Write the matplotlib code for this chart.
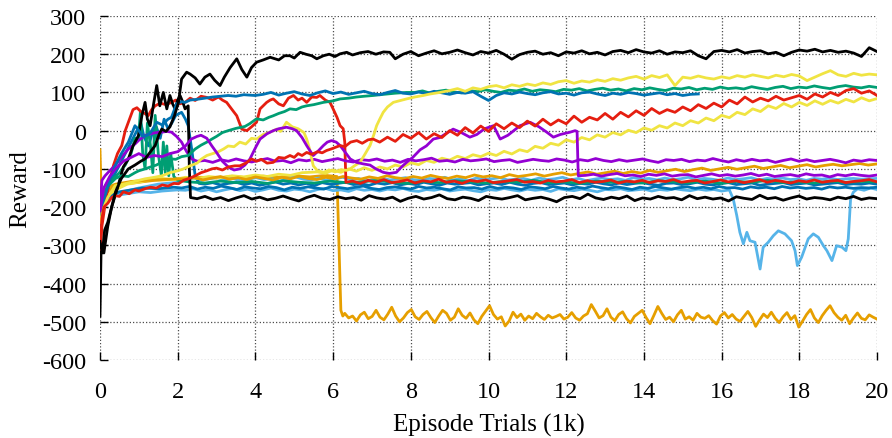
import matplotlib
matplotlib.use("Agg")
import matplotlib.pyplot as plt
import numpy as np

plt.rcParams['font.family'] = ['Liberation Serif', 'DejaVu Serif']
plt.rcParams['axes.unicode_minus'] = False

# gnuplot default line colours
PURPLE = '#9400D3'
GREEN = '#009E73'
SKY = '#56B4E9'
ORANGE = '#E69F00'
YELLOW = '#F0E442'
BLUE = '#0072B2'
RED = '#E51E10'
BLACK = 'black'

x_ticks = [0, 2, 4, 6, 8, 10, 12, 14, 16, 18, 20]
y_ticks = [-600, -500, -400, -300, -200, -100, 0, 100, 200, 300]

# --- reward curves: (episode in 1k, reward) for the start, then evenly spaced tails ---
black_top_early = [(0, -290), (0.06, -320), (0.12, -260), (0.2, -240), (0.3, -200), (0.4, -160),
                   (0.55, -125), (0.73, -100), (0.9, -90), (1.05, -80), (1.16, -74), (1.3, -55),
                   (1.42, -39), (1.52, -10), (1.59, 4), (1.7, -2), (1.8, 10), (1.92, 40), (2.02, 74),
                   (2.1, 135), (2.23, 153), (2.32, 148), (2.45, 138), (2.57, 122), (2.7, 140),
                   (2.83, 148), (2.95, 132), (3.09, 118), (3.2, 140), (3.35, 165), (3.52, 188),
                   (3.65, 160), (3.78, 140), (3.9, 165), (4.03, 179), (4.2, 185), (4.38, 192),
                   (4.6, 185), (4.75, 196), (4.89, 196), (5.0, 190), (5.15, 205), (5.3, 200),
                   (5.45, 196), (5.58, 188), (5.75, 196), (5.9, 200), (6.05, 194), (6.18, 201),
                   (6.35, 205), (6.5, 198), (6.7, 204), (6.9, 207), (7.1, 200), (7.3, 206),
                   (7.46, 205), (7.6, 188)]
black_top_tail = [200, 207, 196, 203, 209, 201, 205, 211, 204, 198, 207, 203, 210, 200, 187, 199,
                  205, 208, 200, 204, 196, 206, 203, 209, 201, 205, 198, 207, 210, 204, 212, 206,
                  203, 209, 200, 206, 204, 209, 196, 188, 207, 210, 206, 212, 203, 207, 209, 201,
                  205, 196, 205, 211, 208, 213, 206, 210, 205, 208, 203, 194, 217, 207]

black_low_early = [(0, -485), (0.03, -300), (0.1, -320), (0.2, -250), (0.3, -200), (0.45, -150),
                   (0.6, -95), (0.73, -74), (0.85, -40), (0.99, -13), (1.08, 40), (1.16, 74),
                   (1.22, 30), (1.29, 13), (1.38, 70), (1.46, 118), (1.54, 65), (1.63, 100),
                   (1.72, 57), (1.8, 92), (1.87, 70), (1.93, 57), (2.0, 80), (2.06, 92),
                   (2.13, 75), (2.19, 57), (2.27, 65), (2.3, -100), (2.33, -175)]
black_low_tail = [-178, -172, -180, -175, -183, -176, -170, -179, -174, -181, -177, -171, -178,
                  -184, -175, -169, -177, -180, -173, -178, -175, -182, -170, -176, -179, -174,
                  -185, -177, -172, -179, -175, -168, -178, -181, -174, -177, -183, -172, -176,
                  -179, -175, -170, -181, -177, -174, -179, -186, -175, -172, -178, -166, -176,
                  -180, -174, -178, -171, -183, -176, -179, -172, -177, -175, -181, -170, -178,
                  -174, -179, -176, -184, -173, -177, -180, -169, -178, -175, -182, -176, -171,
                  -179, -175, -177, -181, -174, -178, -172, -180, -176, -178]

red_hi_early = [(0, -320), (0.05, -250), (0.15, -180), (0.25, -130), (0.35, -90), (0.45, -60),
                (0.56, -39), (0.65, 0), (0.73, 22), (0.85, 55), (0.95, 60), (1.05, 50),
                (1.15, 45), (1.24, 39), (1.33, 55), (1.42, 65), (1.55, 72), (1.7, 68), (1.84, 74),
                (1.95, 80), (2.05, 70), (2.19, 74), (2.32, 85), (2.45, 79), (2.6, 90), (2.75, 87),
                (2.9, 80), (3.05, 88), (3.15, 80), (3.26, 74), (3.4, 55), (3.52, 39), (3.65, 4),
                (3.78, 0), (3.9, 10), (4.03, 22), (4.12, 57), (4.29, 74), (4.38, 80), (4.46, 83),
                (4.6, 70), (4.72, 65), (4.85, 85), (4.98, 92), (5.1, 80), (5.2, 85), (5.32, 74),
                (5.45, 88), (5.58, 87), (5.66, 92), (5.8, 80), (5.92, 74), (6.0, 57), (6.1, 35),
                (6.18, 13), (6.26, 5), (6.3, -30), (6.33, -135)]
red_hi_tail = [-132, -138, -130, -135, -128, -136, -133, -129, -137, -131, -134, -127, -135, -132,
               -138, -130, -133, -129, -136, -134, -131, -128, -135, -133, -137, -130, -134, -132,
               -128, -136, -131, -135, -133, -129, -137, -132, -134, -130, -136, -131, -133, -128,
               -135, -132, -130, -137, -133, -129, -134, -131, -136, -132, -128, -135, -130, -133,
               -137, -131, -134, -129, -135, -132, -130, -136, -133, -131, -128, -134]

red_rise_early = [(0, -310), (0.05, -230), (0.1, -200), (0.2, -190), (0.3, -175), (0.39, -170),
                  (0.5, -172), (0.6, -160), (0.75, -165), (0.9, -155), (1.0, -158), (1.16, -152),
                  (1.3, -148), (1.45, -150), (1.6, -142), (1.75, -145), (1.9, -138), (2.02, -139),
                  (2.15, -130), (2.3, -125), (2.45, -118), (2.6, -110), (2.75, -105), (2.88, -100),
                  (3.0, -98), (3.15, -103), (3.3, -95), (3.47, -92), (3.6, -92), (3.75, -85),
                  (3.9, -74), (4.03, -80), (4.15, -75), (4.3, -85), (4.46, -83), (4.6, -70),
                  (4.75, -72), (4.89, -65), (5.0, -70), (5.1, -60), (5.2, -65), (5.32, -57),
                  (5.45, -62), (5.6, -55), (5.72, -58), (5.83, -52), (5.95, -48), (6.05, -44),
                  (6.18, -39), (6.3, -42), (6.45, -30), (6.61, -26), (6.75, -33), (6.9, -24),
                  (7.03, -22), (7.2, -30)]
red_rise_tail = [-17, -28, -10, -20, -5, -22, -8, -18, 0, -12, 8, -6, 12, -2, 18, 5, 20, 8, 25,
                 12, 30, 15, 28, 18, 38, 22, 35, 28, 45, 30, 48, 36, 52, 40, 58, 45, 55, 48, 62,
                 52, 68, 58, 72, 62, 80, 70, 88, 75, 85, 78, 90, 80, 86, 92, 82, 96, 88, 100, 92,
                 105, 110, 98, 104, 92]

purple_flat_early = [(0, -200), (0.05, -130), (0.13, -118), (0.25, -105), (0.4, -90), (0.55, -70),
                     (0.73, -48), (0.9, -35), (1.0, -25), (1.16, -13), (1.3, -8), (1.45, -5),
                     (1.59, -4), (1.72, -2), (1.84, -4), (1.97, -15), (2.1, -30), (2.23, -55),
                     (2.36, -74), (2.5, -80)]
purple_flat_tail = [-78, -83, -76, -80, -74, -79, -82, -77, -73, -80, -78, -84, -76, -79, -75, -81,
                    -77, -73, -79, -82, -76, -78, -74, -80, -77, -83, -75, -79, -76, -72, -80, -78,
                    -82, -75, -79, -77, -74, -81, -78, -76, -83, -79, -75, -78, -80, -74, -77, -82,
                    -76, -79, -73, -78, -81, -76, -80, -77, -74, -79, -83, -76, -78, -75, -81, -77,
                    -79, -73, -78, -82, -76, -80, -75, -79, -77, -83, -78, -74, -80, -76, -81, -78,
                    -75, -79, -84, -77, -80, -76, -78]

purple_bump_early = [(0, -210), (0.1, -150), (0.25, -120), (0.4, -100), (0.6, -80), (0.8, -70),
                     (1.0, -60), (1.2, -70), (1.4, -65), (1.6, -68), (1.8, -60), (2.0, -55),
                     (2.2, -40), (2.35, -22), (2.5, -15), (2.6, -12), (2.75, -20), (2.88, -40),
                     (3.0, -57), (3.15, -80), (3.3, -95), (3.45, -103), (3.6, -100), (3.73, -90),
                     (3.86, -74), (4.0, -45), (4.12, -22), (4.3, -8), (4.46, 0), (4.6, 5),
                     (4.8, 9), (4.95, 5), (5.06, 0), (5.2, -18), (5.32, -39), (5.42, -55),
                     (5.49, -65), (5.6, -55), (5.75, -39), (5.85, -30), (5.96, -26), (6.08, -30),
                     (6.18, -39), (6.3, -55), (6.44, -74), (6.6, -83), (6.78, -87), (6.95, -90),
                     (7.1, -100), (7.29, -109), (7.45, -112), (7.63, -109), (7.75, -96), (7.89, -83),
                     (8.05, -70), (8.24, -50), (8.4, -40), (8.58, -22), (8.75, -18), (8.9, -8),
                     (9.09, 4), (9.3, -5), (9.52, -17), (9.7, -10), (9.9, 5), (10.13, 13),
                     (10.3, -22), (10.5, -12), (10.65, 0), (10.81, 13), (11.07, 22), (11.3, 10),
                     (11.5, -4), (11.67, -17), (11.85, -10), (12.1, -4), (12.23, 0), (12.28, -2),
                     (12.31, -118)]
purple_bump_tail = [-117, -114, -119, -115, -112, -118, -116, -120, -114, -117, -113, -119, -116,
                    -115, -121, -117, -113, -118, -115, -119, -116, -112, -118, -114, -120, -117,
                    -115, -119, -113, -117, -116, -121, -115, -118, -114, -117, -119, -116]

green_up_early = [(0, -190), (0.1, -160), (0.25, -140), (0.4, -125), (0.55, -118), (0.73, -120),
                  (0.9, -110), (1.0, -105), (1.16, -100), (1.3, -95), (1.45, -90), (1.6, -82),
                  (1.72, -78), (1.84, -74), (1.95, -75), (2.1, -68), (2.27, -65), (2.45, -48),
                  (2.6, -38), (2.75, -30), (2.88, -22), (3.0, -15), (3.15, -5), (3.3, 0),
                  (3.5, 6), (3.73, 11), (3.85, 18), (4.03, 31), (4.2, 28), (4.35, 35), (4.46, 39),
                  (4.6, 45), (4.75, 50), (4.89, 57), (5.05, 55), (5.2, 62), (5.32, 65), (5.5, 68),
                  (5.75, 74), (6.0, 78), (6.18, 83), (6.4, 85), (6.6, 88), (6.8, 90), (7.03, 92),
                  (7.3, 95), (7.6, 98), (7.89, 100)]
green_up_tail = [100, 104, 98, 103, 106, 101, 99, 105, 102, 107, 103, 100, 106, 104, 109, 103, 107,
                 105, 102, 108, 106, 110, 104, 108, 111, 106, 109, 104, 110, 107, 112, 108, 105, 111,
                 109, 113, 107, 111, 108, 114, 110, 112, 109, 115, 111, 108, 113, 116, 110, 114, 112,
                 117, 113, 110, 115, 118, 114, 112, 116, 113]

green_jag_early = [(0, -170), (0.1, -150), (0.2, -135), (0.35, -125), (0.5, -110), (0.65, -90),
                   (0.8, -60), (0.9, -20), (0.99, -22), (1.04, 50), (1.1, -60), (1.16, -100),
                   (1.22, 20), (1.3, -40), (1.36, -110), (1.42, 40), (1.5, -60), (1.58, -118),
                   (1.63, -30), (1.68, -110), (1.72, -40), (1.77, -118), (1.82, -60), (1.9, -120),
                   (2.0, -130), (2.15, -132)]
green_jag_tail = [-134, -137, -132, -136, -133, -138, -131, -135, -137, -132, -136, -134, -130,
                  -135, -138, -133, -136, -131, -134, -137, -133, -135, -130, -136, -134, -138,
                  -132, -135, -133, -137, -131, -134, -136, -132, -138, -133, -135, -130, -136,
                  -134, -137, -132, -135, -133, -134]

blue_top_early = [(0, -250), (0.1, -180), (0.25, -130), (0.4, -90), (0.55, -60), (0.73, -30),
                  (0.9, 13), (1.0, 0), (1.1, -15), (1.2, -13), (1.3, -5), (1.46, 22), (1.6, 15),
                  (1.75, 30), (1.84, 35), (1.97, 70), (2.1, 76), (2.19, 74), (2.32, 80), (2.5, 82),
                  (2.7, 85), (2.9, 88), (3.1, 90), (3.3, 92), (3.5, 90), (3.7, 94), (3.99, 92)]
blue_top_tail = [95, 100, 93, 98, 102, 96, 92, 99, 104, 97, 101, 95, 99, 103, 97, 94, 100, 105, 98,
                 96, 101, 97, 103, 99, 95, 100, 98, 102, 90, 79, 92, 99, 96, 101, 97, 94, 99, 102,
                 96, 98, 93, 99, 101, 96, 92, 98, 95, 100, 97, 93, 96, 99, 94, 97, 92, 95, 96]

blue_drop_early = [(0, -220), (0.1, -180), (0.25, -140), (0.4, -110), (0.55, -80), (0.7, -50),
                   (0.85, -20), (0.95, 0), (1.05, 20), (1.12, -10), (1.16, -22), (1.25, -40),
                   (1.35, -5), (1.45, 10), (1.55, -20), (1.65, 30), (1.75, 5), (1.85, 20),
                   (1.95, 40), (2.1, 48), (2.2, 30), (2.27, 13), (2.36, -48), (2.45, -118),
                   (2.55, -138)]
blue_drop_tail = [-140, -136, -142, -138, -135, -141, -137, -143, -139, -134, -140, -137, -142,
                  -138, -144, -136, -140, -138, -135, -141, -139, -143, -137, -140, -136, -142,
                  -138, -141, -135, -139, -143, -137, -140, -138, -136, -142, -139, -137, -141,
                  -135, -140, -143, -138, -136, -141, -139, -137, -142, -138, -140, -135, -139,
                  -142, -137, -141, -138, -136, -140, -143, -138, -137, -141, -139, -135, -140,
                  -142, -138, -136, -141, -139, -137, -143, -140, -138, -136, -141, -139, -137,
                  -142, -140, -138, -136, -141, -139, -140, -137, -140]

blue_low_early = [(0, -230), (0.1, -190), (0.25, -170), (0.5, -160), (0.8, -155), (1.1, -150),
                  (1.5, -152), (1.9, -148)]
blue_low_tail = [-150, -146, -153, -148, -151, -145, -149, -154, -147, -150, -152, -146, -149,
                 -155, -148, -151, -147, -150, -153, -146, -149, -152, -148, -145, -151, -154,
                 -149, -147, -150, -153, -146, -150, -148, -152, -155, -147, -150, -149, -153,
                 -146, -151, -148, -150, -154, -147, -149, -152, -146, -150, -153, -148, -151,
                 -145, -149, -152, -147, -150, -154, -148, -151, -146, -150, -153, -149, -147,
                 -151, -148, -152, -146, -150, -149, -153, -147, -150, -148, -152, -146, -150,
                 -148, -151, -149, -153, -147, -150, -148, -151, -149, -150, -148]

sky_dip_early = [(0, -260), (0.1, -200), (0.2, -180), (0.4, -170), (0.7, -165), (1.0, -160),
                 (1.3, -162), (1.6, -158), (2.0, -155)]
sky_dip_flat = [-156, -152, -158, -154, -160, -155, -151, -157, -153, -159, -155, -150, -156,
                -158, -153, -155, -160, -154, -151, -157, -155, -159, -152, -156, -154, -158,
                -153, -155, -151, -157, -159, -154, -156, -152, -158, -155, -153, -157, -160,
                -154, -156, -151, -155, -158, -153, -156, -154, -159, -152, -155, -157, -153,
                -156, -160, -154, -155, -152, -157, -155, -153, -158, -154, -156, -152, -155,
                -157, -153, -156, -154, -158, -155]
sky_dip_drop = [(16.3, -179), (16.39, -222), (16.47, -266), (16.56, -296), (16.65, -266),
                (16.73, -288), (16.86, -292), (16.99, -362), (17.07, -305), (17.2, -292),
                (17.33, -275), (17.46, -262), (17.63, -270), (17.8, -288), (17.89, -314),
                (17.95, -353), (18.06, -331), (18.23, -283), (18.36, -270), (18.49, -279),
                (18.62, -301), (18.71, -314), (18.84, -340), (18.96, -301), (19.1, -305),
                (19.2, -314), (19.26, -283), (19.32, -179), (19.39, -161)]
sky_dip_end = [-152, -156, -150, -154]

sky_mid_early = [(0, -240), (0.1, -185), (0.3, -165), (0.6, -160), (1.0, -150), (1.5, -140),
                 (2.0, -135)]
sky_mid_tail = [-128, -124, -130, -126, -122, -129, -125, -131, -127, -123, -128, -126, -132,
                -125, -121, -127, -129, -124, -130, -126, -122, -128, -125, -131, -127, -124,
                -129, -126, -123, -128, -130, -125, -127, -122, -129, -126, -131, -124, -128,
                -126, -123, -129, -127, -125, -130, -124, -128, -126, -122, -129, -125, -131,
                -127, -124, -128, -126, -130, -123, -127, -125, -129, -124, -128, -126, -122,
                -129, -125, -127, -130, -124, -128, -126, -123, -129, -125, -127, -124, -128,
                -126, -130, -125, -127, -124, -128, -126, -125, -127, -126, -125]

yellow_up_early = [(0, -240), (0.1, -200), (0.2, -175), (0.39, -144), (0.6, -140), (0.8, -135),
                   (1.0, -130), (1.16, -126), (1.4, -122), (1.6, -118), (1.8, -110), (2.0, -105),
                   (2.15, -100), (2.32, -92), (2.5, -85), (2.6, -75), (2.75, -65), (2.9, -60),
                   (3.05, -55), (3.18, -48), (3.3, -40), (3.45, -42), (3.6, -30), (3.75, -35),
                   (3.9, -20), (4.03, -22), (4.2, -10), (4.35, -5), (4.55, 4), (4.65, -2),
                   (4.8, 22), (4.95, 10), (5.1, 5), (5.25, -5), (5.32, -22), (5.4, -50),
                   (5.49, -92), (5.6, -105), (5.75, -109), (5.9, -103), (6.05, -108), (6.2, -102),
                   (6.35, -104), (6.44, -100), (6.55, -92), (6.69, -83), (6.8, -65), (6.95, -39),
                   (7.05, -10), (7.12, 13), (7.2, 30), (7.29, 48), (7.4, 62), (7.55, 74),
                   (7.7, 78), (7.89, 83), (8.1, 88), (8.32, 92), (8.5, 96), (8.75, 100)]
yellow_up_tail = [105, 110, 103, 112, 108, 115, 118, 112, 120, 116, 122, 118, 125, 121, 128, 131,
                  124, 130, 127, 133, 129, 136, 132, 138, 142, 135, 144, 139, 146, 118, 140, 137,
                  143, 138, 135, 141, 137, 144, 140, 146, 142, 138, 145, 141, 147, 143, 131, 140,
                  149, 157, 146, 142, 150, 145, 148, 146]

yellow_slow_early = [(0, -230), (0.1, -190), (0.2, -170), (0.4, -155), (0.7, -140), (1.0, -135),
                     (1.3, -128), (1.6, -125), (1.9, -128), (2.2, -122), (2.5, -125), (2.8, -120),
                     (3.1, -123), (3.4, -118), (3.7, -121), (4.0, -116), (4.3, -120), (4.6, -114),
                     (4.9, -117), (5.2, -110), (5.4, -109)]
yellow_slow_tail = [-108, -112, -103, -109, -100, -106, -97, -104, -95, -100, -90, -95, -84, -89,
                    -78, -83, -72, -77, -67, -73, -63, -68, -59, -65, -54, -61, -50, -55, -41, -46,
                    -33, -38, -24, -30, -18, -24, -11, -17, -5, -11, 1, -5, 7, 1, 13, 7, 20, 13,
                    26, 20, 33, 26, 40, 34, 48, 42, 57, 50, 65, 58, 71, 62, 74, 66, 78, 69, 79,
                    72, 82, 75, 86, 78, 84]

orange_up_early = [(0, -50), (0.03, -160), (0.15, -150), (0.4, -140), (0.8, -133), (1.2, -130),
                   (1.6, -128), (2.0, -126)]
orange_up_tail = [-126, -122, -129, -124, -120, -127, -123, -128, -121, -125, -129, -122, -126,
                  -119, -125, -128, -122, -126, -120, -124, -127, -121, -125, -118, -123, -126,
                  -120, -124, -117, -122, -125, -119, -123, -116, -121, -118, -123, -115, -120,
                  -117, -113, -119, -114, -110, -116, -112, -108, -114, -110, -106, -112, -107,
                  -111, -104, -109, -105, -101, -107, -102, -98, -104, -100, -96, -101, -97, -93,
                  -99, -95, -91, -97, -93, -89, -95, -91, -88, -92, -89, -86, -90, -87]

orange_fall_early = [(0, -260), (0.05, -200), (0.15, -165), (0.3, -150), (0.6, -140), (1.0, -135),
                     (1.4, -130), (1.8, -128), (2.2, -125), (2.6, -122), (3.0, -124), (3.4, -120),
                     (3.8, -123), (4.2, -119), (4.6, -122), (5.0, -118), (5.4, -121), (5.8, -117),
                     (6.1, -120), (6.2, -470), (6.25, -485)]
orange_fall_tail = [-478, -490, -485, -498, -482, -475, -492, -486, -470, -488, -495, -480, -462,
                    -485, -500, -490, -476, -468, -487, -494, -481, -473, -489, -502, -485, -470,
                    -478, -496, -488, -466, -483, -491, -477, -495, -505, -486, -472, -458, -481,
                    -493, -487, -511, -498, -475, -489, -480, -496, -485, -492, -478, -487, -494,
                    -483, -490, -486, -481, -493, -488, -476, -490, -496, -485, -479, -455, -472,
                    -490, -484, -466, -488, -497, -481, -474, -492, -503, -486, -478, -470, -489,
                    -505, -483, -460, -478, -494, -488, -500, -482, -470, -493, -487, -496, -478,
                    -488, -491, -484, -497, -506, -485, -476, -490, -481, -493, -499, -486, -473,
                    -489, -512, -495, -480, -489, -475, -491, -502, -487, -476, -494, -484, -514,
                    -498, -481, -468, -490, -502, -484, -470, -458, -476, -488, -496, -483, -505,
                    -490, -477, -491, -495, -482, -488, -493]


def pairs(points):
    k, v = zip(*points)
    return list(k), list(v)


def tail(k0, k1, values):
    return list(np.linspace(k0, k1, len(values))), list(values)


def curve(*parts):
    ks, vs = [], []
    for k, v in parts:
        ks += k
        vs += v
    return ks, vs


fig = plt.figure(figsize=(8.92, 4.39), dpi=100)
ax = fig.add_axes([0.1121, 0.1777, 0.8711, 0.7836])

curves = [
    (curve(pairs(orange_fall_early), tail(6.3, 20, orange_fall_tail)), ORANGE),
    (curve(pairs(sky_dip_early), tail(2.2, 16.2, sky_dip_flat), pairs(sky_dip_drop),
           tail(19.5, 20, sky_dip_end)), SKY),
    (curve(pairs(sky_mid_early), tail(2.2, 20, sky_mid_tail)), SKY),
    (curve(pairs(blue_low_early), tail(2.1, 20, blue_low_tail)), BLUE),
    (curve(pairs(blue_drop_early), tail(2.7, 20, blue_drop_tail)), BLUE),
    (curve(pairs(green_jag_early), tail(2.3, 20, green_jag_tail)), GREEN),
    (curve(pairs(yellow_slow_early), tail(5.6, 20, yellow_slow_tail)), YELLOW),
    (curve(pairs(orange_up_early), tail(2.2, 20, orange_up_tail)), ORANGE),
    (curve(pairs(red_hi_early), tail(6.5, 20, red_hi_tail)), RED),
    (curve(pairs(purple_flat_early), tail(2.7, 20, purple_flat_tail)), PURPLE),
    (curve(pairs(black_low_early), tail(2.5, 20, black_low_tail)), BLACK),
    (curve(pairs(green_up_early), tail(8.1, 20, green_up_tail)), GREEN),
    (curve(pairs(blue_top_early), tail(4.2, 15.4, blue_top_tail)), BLUE),
    (curve(pairs(yellow_up_early), tail(9.0, 20, yellow_up_tail)), YELLOW),
    (curve(pairs(purple_bump_early), tail(12.5, 20, purple_bump_tail)), PURPLE),
    (curve(pairs(red_rise_early), tail(7.4, 20, red_rise_tail)), RED),
    (curve(pairs(black_top_early), tail(7.8, 20, black_top_tail)), BLACK),
]

for (k, v), color in curves:
    ax.plot(k, v, color=color, lw=2.0, solid_joinstyle='round')

ax.set_xlim(0, 20)
ax.set_ylim(-600, 300)
ax.set_xticks(x_ticks)
ax.set_yticks(y_ticks)
ax.grid(True, color='0.3', linestyle=(0, (1, 1.6)), linewidth=0.9)
for side in ax.spines.values():
    side.set_visible(False)
ax.tick_params(direction='in', length=5.5, width=1, labelsize=17.5, top=False, right=False)
ax.tick_params(axis='y', pad=10)
ax.tick_params(axis='x', pad=15)
ax.set_xlabel('Episode Trials (1k)', fontsize=18, labelpad=8)
ax.set_ylabel('Reward', fontsize=18, labelpad=8)

fig.savefig('out.png', dpi=100)
